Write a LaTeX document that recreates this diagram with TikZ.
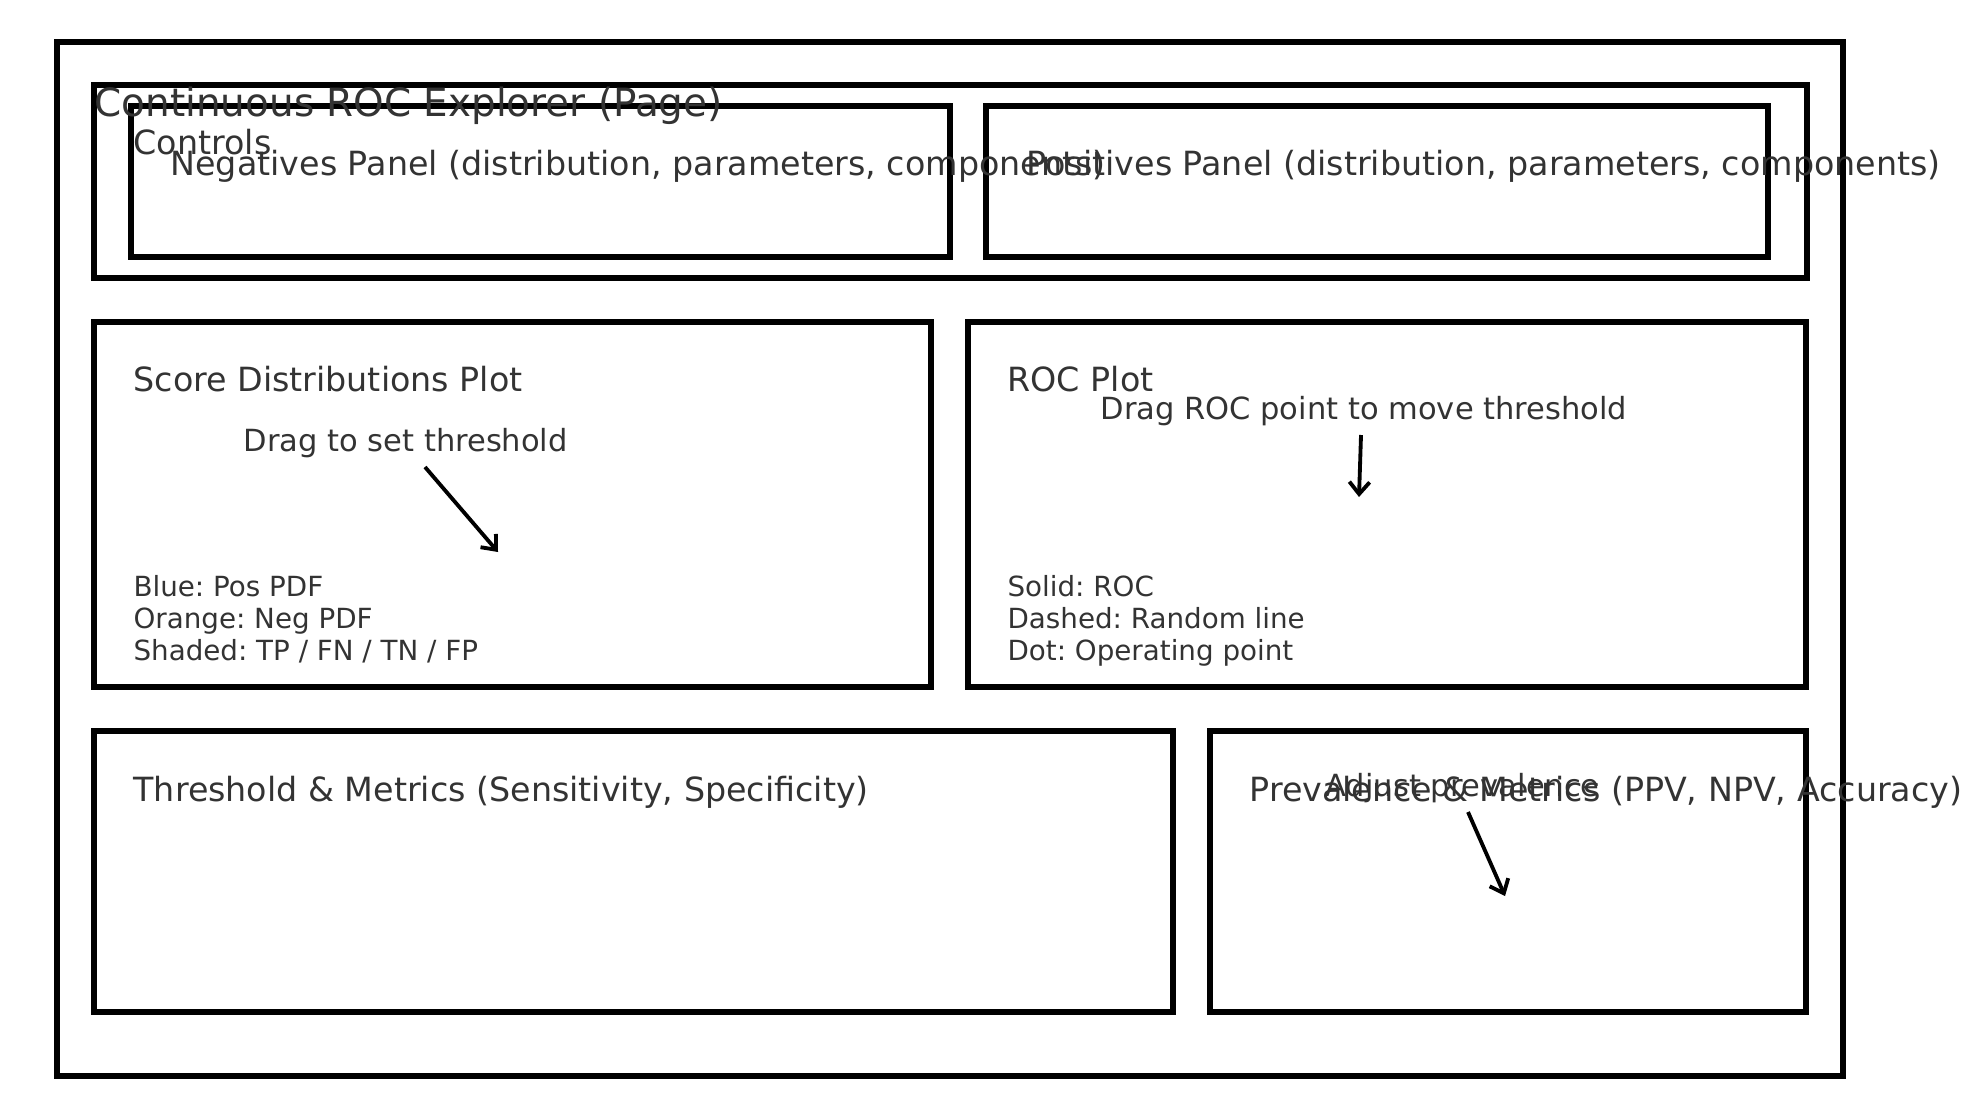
\documentclass[tikz,border=0pt]{standalone}
\usepackage{fontspec}
\setmainfont{DejaVu Sans}
\usetikzlibrary{fit,arrows.meta}
\definecolor{txt}{HTML}{333333}
\frenchspacing
\begin{document}
\begin{tikzpicture}[x=0.365pt,y=-0.365pt,
  box/.style={draw=black,line width=1.95pt,inner sep=0pt,rectangle},
  lbl/.style={anchor=base west,inner sep=0pt,text=txt},
  ttl/.style={lbl,font=\fontsize{14.2}{17}\selectfont},
  big/.style={lbl,font=\fontsize{12.16}{14.5}\selectfont},
  ann/.style={lbl,font=\fontsize{11.14}{13.5}\selectfont},
  leg/.style={lbl,font=\fontsize{10.13}{12}\selectfont},
  arr/.style={draw=black,line width=1.4pt,-{Straight Barb[length=4.4pt,width=7.4pt,line width=1.4pt]}}]
\useasboundingbox (0,0) rectangle (1981,1118);
% boxes
\node[box,fit={(57,42) (1843,1076)}] (page) {};
\node[box,fit={(94,85) (1807,278)}] (controls) {};
\node[box,fit={(131,106) (950,257)}] (neg) {};
\node[box,fit={(986,106) (1768,257)}] (pos) {};
\node[box,fit={(94,322) (931,687)}] (score) {};
\node[box,fit={(968,322) (1806,687)}] (roc) {};
\node[box,fit={(94,731) (1173,1012)}] (thr) {};
\node[box,fit={(1210,731) (1806,1012)}] (prev) {};
% texts
\node[ttl] (tpage) at (94,117) {Continuous ROC Explorer (Page)};
\node[big] (tcontrols) at (133,155) {Controls};
\node[big] (tneg) at (170,176) {Negatives Panel (distribution, parameters, components)};
\node[big] (tpos) at (1026,176) {Positives Panel (distribution, parameters, components)};
\node[big] (tscore) at (133,391) {Score Distributions Plot};
\node[ann] (adrag) at (243,451) {Drag to set threshold};
\node[leg] (l1) at (133,596) {Blue: Pos PDF};
\node[leg] (l2) at (133,628) {Orange: Neg PDF};
\node[leg] (l3) at (133,660) {Shaded: TP / FN / TN / FP};
\node[big] (troc) at (1007,391) {ROC Plot};
\node[ann] (aroc) at (1100,419) {Drag ROC point to move threshold};
\node[leg] (r1) at (1007,596) {Solid: ROC};
\node[leg] (r2) at (1007,628) {Dashed: Random line};
\node[leg] (r3) at (1007,660) {Dot: Operating point};
\node[big] (tthr) at (133,801) {Threshold \& Metrics (Sensitivity, Specificity)};
\node[big] (tprev) at (1249,801) {Prevalence \& Metrics (PPV, NPV, Accuracy)};
\node[ann] (aprev) at (1325,796) {Adjust prevalence};
% arrows
\coordinate (a1s) at (425,467);
\coordinate (a1e) at (498,552);
\coordinate (a2s) at (1361,435);
\coordinate (a2e) at (1359,497);
\coordinate (a3s) at (1468,812);
\coordinate (a3e) at (1505,896);
\draw[arr] (a1s) -- (a1e);
\draw[arr] (a2s) -- (a2e);
\draw[arr] (a3s) -- (a3e);
\end{tikzpicture}
\end{document}
